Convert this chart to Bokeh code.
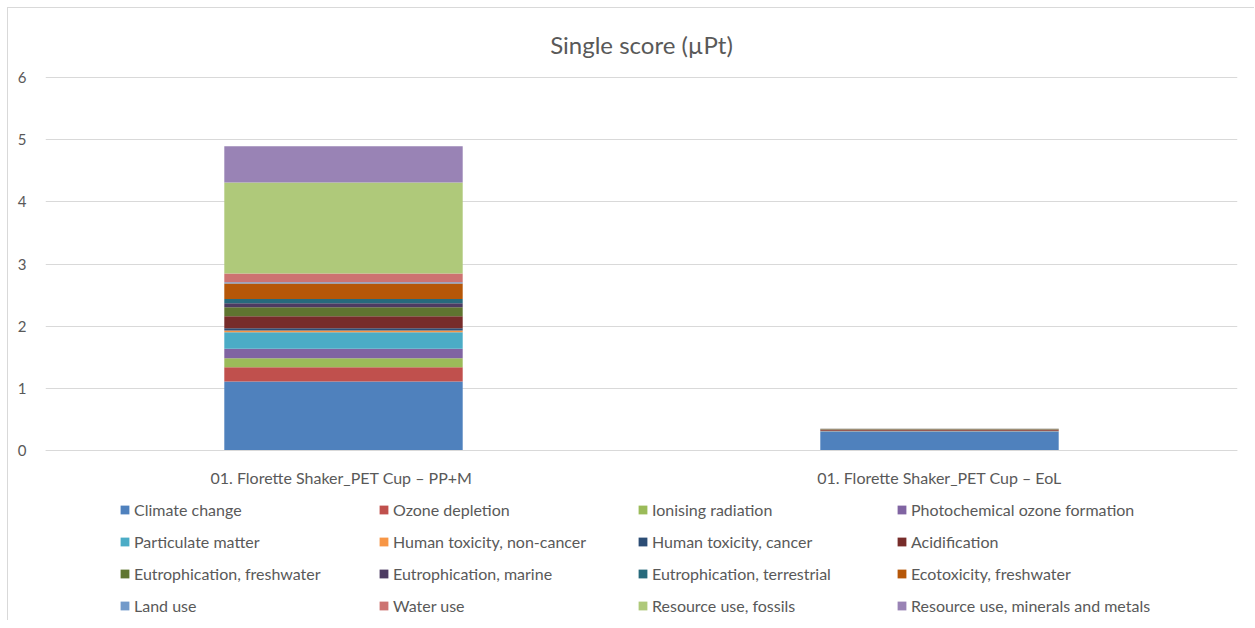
from bokeh.plotting import figure
from bokeh.models import Legend, LegendItem, Range1d, FactorRange, ColumnDataSource
from bokeh.embed import file_html
from bokeh.resources import INLINE

categories = ["01. Florette Shaker_PET Cup \u2013  PP+M", "01. Florette Shaker_PET Cup \u2013 EoL"]

impact_names = [
    "Climate change", "Ozone depletion", "Ionising radiation", "Photochemical ozone formation",
    "Particulate matter", "Human toxicity, non-cancer", "Human toxicity, cancer", "Acidification",
    "Eutrophication, freshwater", "Eutrophication, marine", "Eutrophication, terrestrial", "Ecotoxicity, freshwater",
    "Land use", "Water use", "Resource use, fossils", "Resource use, minerals and metals",
]

climate_change = [1.11, 0.305]
ozone_depletion = [0.23, 0.002]
ionising_radiation = [0.145, 0.001]
photochemical_ozone = [0.15, 0.004]
particulate_matter = [0.267, 0.003]
human_tox_noncancer = [0.027, 0.002]
human_tox_cancer = [0.037, 0.001]
acidification = [0.193, 0.018]
eutro_freshwater = [0.145, 0.001]
eutro_marine = [0.064, 0.002]
eutro_terrestrial = [0.071, 0.003]
ecotox_freshwater = [0.246, 0.003]
land_use = [0.021, 0.001]
water_use = [0.14, 0.001]
resource_fossils = [1.463, 0.003]
resource_minerals = [0.585, 0.006]

series = [climate_change, ozone_depletion, ionising_radiation, photochemical_ozone,
          particulate_matter, human_tox_noncancer, human_tox_cancer, acidification,
          eutro_freshwater, eutro_marine, eutro_terrestrial, ecotox_freshwater,
          land_use, water_use, resource_fossils, resource_minerals]

colors = ["#4F81BD", "#C0504D", "#9BBB59", "#8064A2", "#4BACC6", "#F79646", "#2C4D75", "#772C2A",
          "#5F7530", "#4D3B62", "#276A7C", "#B65708", "#729ACA", "#CD7371", "#AFC97A", "#9983B5"]

y_ticks = [0, 1, 2, 3, 4, 5, 6]

keys = ["s%d" % i for i in range(len(series))]
data = {"cat": categories}
for k, s in zip(keys, series):
    data[k] = s
source = ColumnDataSource(data)

FONT = "Lato"
TXT = "#595959"

# frame extends below the value axis to host the legend (Excel-style layout)
p = figure(frame_width=1192, frame_height=545, x_range=FactorRange(*categories, range_padding=0),
           y_range=Range1d(-2.734, 6.032), output_backend="svg", toolbar_location=None,
           title="Single score (\u00b5Pt)")
p.min_border_left = 37
p.min_border_right = 17
p.min_border_top = 67
p.min_border_bottom = 0
p.outline_line_color = None
p.styles = {"border-top": "1px solid #d9d9d9", "border-left": "1px solid #d9d9d9",
            "margin": "7px 0 0 7px"}

p.title.align = "center"
p.title.text_font = FONT
p.title.text_font_size = "24px"
p.title.text_font_style = "normal"
p.title.text_color = TXT
p.title.standoff = 33

renderers = p.vbar_stack(keys, x="cat", width=0.4, source=source, color=colors, line_width=0)

p.xgrid.grid_line_color = None
p.ygrid.grid_line_color = "#d9d9d9"
p.ygrid.grid_line_width = 1
p.yaxis.ticker = y_ticks
p.yaxis.axis_line_color = None
p.yaxis.major_tick_line_color = None
p.yaxis.minor_tick_line_color = None
p.yaxis.major_label_text_font = FONT
p.yaxis.major_label_text_font_size = "15px"
p.yaxis.major_label_text_color = TXT
p.yaxis.major_label_standoff = 13

p.xaxis.fixed_location = 0
p.xaxis.axis_line_color = "#d9d9d9"
p.xaxis.major_tick_line_color = None
p.xaxis.minor_tick_line_color = None
p.xaxis.major_label_text_font = FONT
p.xaxis.major_label_text_font_size = "16px"
p.xaxis.major_label_text_color = TXT
p.xaxis.major_label_standoff = 11

row_bottoms = [101, 69, 37, 5]
for row in range(4):
    row_items = [LegendItem(label=impact_names[i], renderers=[renderers[i]])
                 for i in range(row * 4, row * 4 + 4)]
    lg = Legend(items=row_items, orientation="horizontal", location=(74, row_bottoms[row]))
    lg.label_text_font = FONT
    lg.label_text_font_size = "16px"
    lg.label_text_color = TXT
    lg.glyph_width = 11
    lg.glyph_height = 11
    lg.label_height = 20
    lg.label_width = 240
    lg.spacing = 4
    lg.label_standoff = 4
    lg.border_line_color = None
    lg.background_fill_alpha = 0
    lg.margin = 0
    lg.padding = 0
    p.add_layout(lg, "center")

open("out.html", "w").write(file_html(p, INLINE))
